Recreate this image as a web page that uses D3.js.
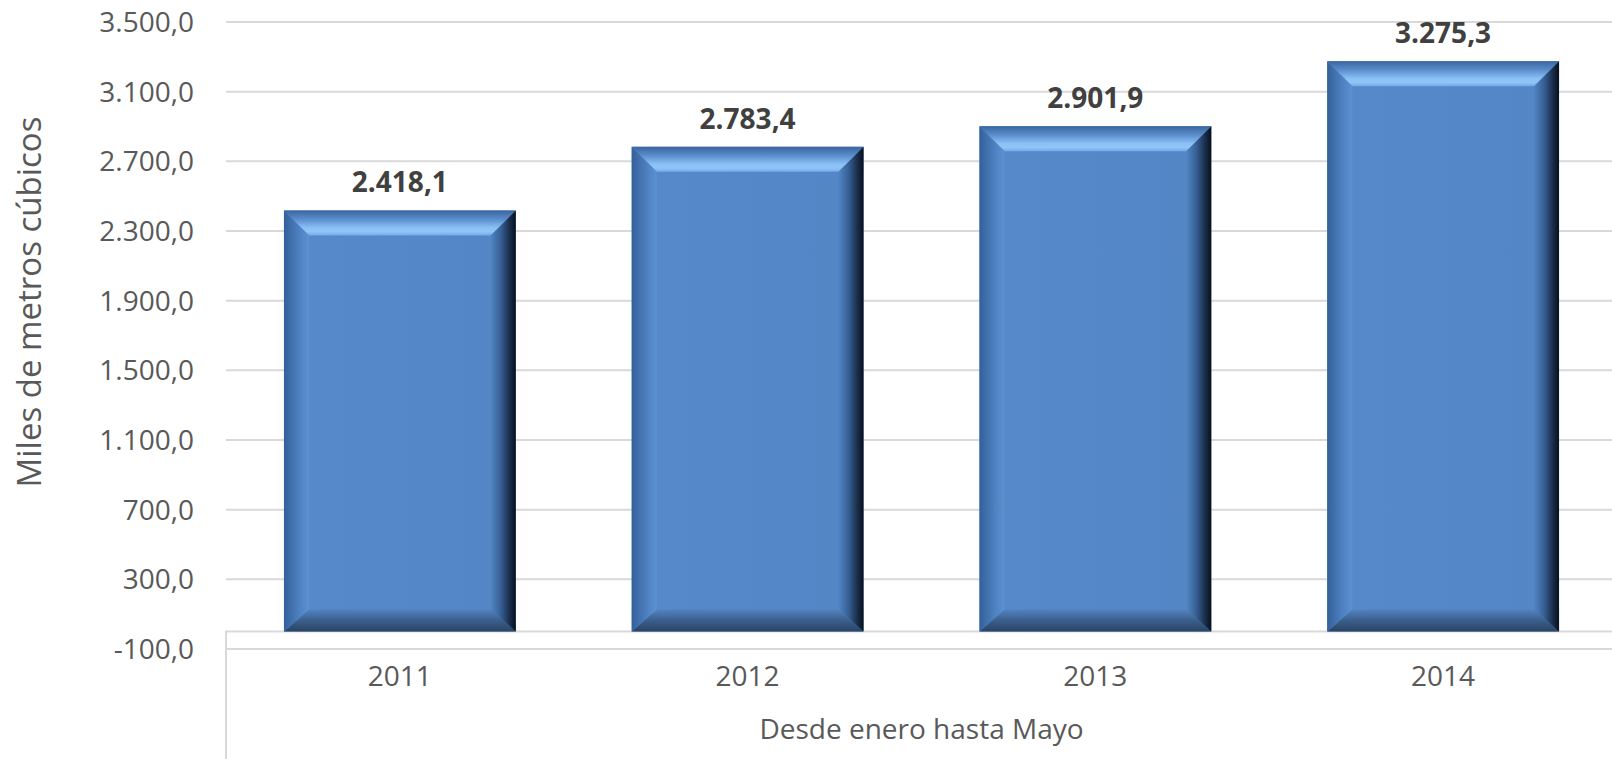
<!DOCTYPE html>
<html>
<head>
<meta charset="utf-8">
<script src="https://cdn.jsdelivr.net/npm/d3@7"></script>
<style>
  body { margin: 0; background: #fff; }
  svg { display: block; }
  text { font-family: "Open Sans", sans-serif; }
</style>
</head>
<body>
<svg id="chart" width="1612" height="759"></svg>
<script>
// data
const years = ["2011", "2012", "2013", "2014"];
const volumes = [2418.1, 2783.4, 2901.9, 3275.3];
const tickValues = [-100, 300, 700, 1100, 1500, 1900, 2300, 2700, 3100, 3500];
const yTitle = "Miles de metros cúbicos";
const xTitle = "Desde enero hasta Mayo";

const svg = d3.select("#chart");
const width = +svg.attr("width");
const height = +svg.attr("height");

// plot area (runs a little past the right edge, as in the original)
const plot = { left: 226, right: 1617, top: 22, bottom: 649 };

const es = d3.formatLocale({ decimal: ",", thousands: ".", grouping: [3], currency: ["", " €"], minus: "-" });
const fmt = es.format(",.1f");

const x = d3.scaleBand()
  .domain(years)
  .range([plot.left, plot.right])
  .paddingInner(1 / 3)
  .paddingOuter(1 / 6);

const y = d3.scaleLinear()
  .domain([-100, 3500])
  .range([plot.bottom, plot.top]);

const grid = "#d9d9d9";

// gradients for the bevelled bars
const defs = svg.append("defs");
function grad(id, x1, y1, x2, y2, stops) {
  const g = defs.append("linearGradient").attr("id", id)
    .attr("x1", x1).attr("y1", y1).attr("x2", x2).attr("y2", y2);
  stops.forEach(s => g.append("stop").attr("offset", s[0]).attr("stop-color", s[1]));
}
grad("bevTop", 0, 0, 0, 1, [[0, "#3a659e"], [0.35, "#5a8dcc"], [0.7, "#8cc1f5"], [0.85, "#90c5f9"], [1, "#74a9e6"]]);
grad("bevLeft", 0, 0, 1, 0, [[0, "#34609a"], [0.6, "#4d80bf"], [1, "#5c92d3"]]);
grad("bevRight", 1, 0, 0, 0, [[0, "#08101c"], [0.25, "#1a2e4b"], [0.6, "#375f94"], [1, "#5185c4"]]);
grad("bevBottom", 0, 1, 0, 0, [[0, "#2a4363"], [0.5, "#3b5e8b"], [1, "#5283c0"]]);
grad("face", 0, 0, 1, 0, [[0, "#5b90d1"], [0.08, "#5589ca"], [1, "#5486c6"]]);

// gridlines
svg.append("g")
  .selectAll("line")
  .data(tickValues)
  .enter().append("line")
    .attr("x1", plot.left)
    .attr("x2", width)
    .attr("y1", d => y(d))
    .attr("y2", d => y(d))
    .attr("stroke", grid)
    .attr("stroke-width", 2);

// category axis at zero and the outer level divider
svg.append("line")
  .attr("x1", plot.left).attr("x2", width)
  .attr("y1", y(0)).attr("y2", y(0))
  .attr("stroke", grid).attr("stroke-width", 2);

svg.append("line")
  .attr("x1", plot.left).attr("x2", plot.left)
  .attr("y1", y(0) - 1).attr("y2", height)
  .attr("stroke", grid).attr("stroke-width", 2);

// y tick labels
svg.append("g")
  .selectAll("text")
  .data(tickValues)
  .enter().append("text")
    .attr("x", 194)
    .attr("y", d => y(d) + 10)
    .attr("text-anchor", "end")
    .attr("font-size", 28)
    .attr("fill", "#595959")
    .text(d => fmt(d));

// bars
const bev = 25, bevB = 22;
const bars = svg.append("g")
  .selectAll("g")
  .data(years.map((yr, i) => ({ year: yr, value: volumes[i] })))
  .enter().append("g");

bars.append("rect")
  .attr("x", d => x(d.year))
  .attr("y", d => y(d.value))
  .attr("width", x.bandwidth())
  .attr("height", d => y(0) - y(d.value))
  .attr("fill", "url(#face)");

function pts(arr) { return arr.map(p => p.join(",")).join(" "); }

bars.append("polygon")
  .attr("fill", "url(#bevTop)")
  .attr("points", d => {
    const x0 = x(d.year), x1 = x0 + x.bandwidth(), t = y(d.value);
    return pts([[x0, t], [x1, t], [x1 - bev, t + bev], [x0 + bev, t + bev]]);
  });
bars.append("polygon")
  .attr("fill", "url(#bevBottom)")
  .attr("points", d => {
    const x0 = x(d.year), x1 = x0 + x.bandwidth(), b = y(0);
    return pts([[x0, b], [x1, b], [x1 - bev, b - bevB], [x0 + bev, b - bevB]]);
  });
bars.append("polygon")
  .attr("fill", "url(#bevLeft)")
  .attr("points", d => {
    const x0 = x(d.year), t = y(d.value), b = y(0);
    return pts([[x0, t], [x0 + bev, t + bev], [x0 + bev, b - bevB], [x0, b]]);
  });
bars.append("polygon")
  .attr("fill", "url(#bevRight)")
  .attr("points", d => {
    const x1 = x(d.year) + x.bandwidth(), t = y(d.value), b = y(0);
    return pts([[x1, t], [x1 - bev, t + bev], [x1 - bev, b - bevB], [x1, b]]);
  });

// data labels
bars.append("text")
  .attr("x", d => x(d.year) + x.bandwidth() / 2)
  .attr("y", d => y(d.value) - 18)
  .attr("text-anchor", "middle")
  .attr("font-size", 28)
  .attr("font-weight", "bold")
  .attr("fill", "#404040")
  .text(d => fmt(d.value));

// category labels
svg.append("g")
  .selectAll("text")
  .data(years)
  .enter().append("text")
    .attr("x", d => x(d) + x.bandwidth() / 2)
    .attr("y", 686)
    .attr("text-anchor", "middle")
    .attr("font-size", 28)
    .attr("fill", "#595959")
    .text(d => d);

// outer category label
svg.append("text")
  .attr("x", (plot.left + plot.right) / 2)
  .attr("y", 739)
  .attr("text-anchor", "middle")
  .attr("font-size", 28)
  .attr("fill", "#595959")
  .text(xTitle);

// y axis title
svg.append("text")
  .attr("transform", "translate(41,302) rotate(-90)")
  .attr("text-anchor", "middle")
  .attr("font-size", 33)
  .attr("fill", "#595959")
  .text(yTitle);
</script>
</body>
</html>
